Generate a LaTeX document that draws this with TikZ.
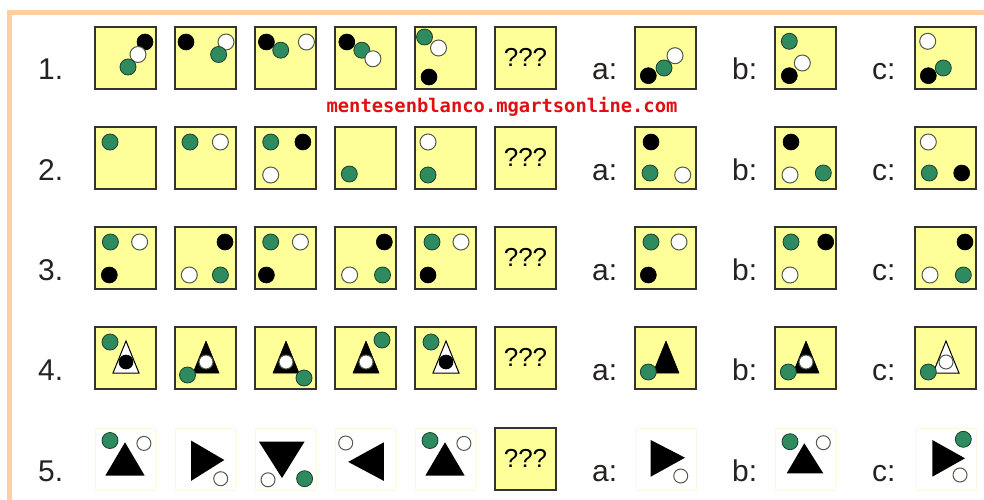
\documentclass[tikz,border=0pt]{standalone}
\usepackage{fontspec}
\setmainfont{Liberation Sans}
\newfontfamily\markfont{DejaVu Sans Mono}
\definecolor{qyellow}{HTML}{FFFF99}
\definecolor{qline}{HTML}{333333}
\definecolor{qgreen}{HTML}{2E8B60}
\definecolor{qgline}{HTML}{1E3F2C}
\definecolor{qwline}{HTML}{4F5A48}
\definecolor{qtext}{HTML}{262222}
\definecolor{qred}{HTML}{E01010}
\definecolor{qframe}{HTML}{FFCFA0}
\definecolor{qfaint}{HTML}{FDF6E0}

\begin{document}
\begin{tikzpicture}[x=1pt,y=-1pt,
    box/.style={fill=qyellow,draw=qline,line width=1.3pt},
    bk/.style={fill=black,draw=black,line width=0.6pt},
    wt/.style={fill=white,draw=qwline,line width=1pt},
    gr/.style={fill=qgreen,draw=qgline,line width=0.8pt},
    btri/.style={fill=black,draw=black,line width=0.6pt,line join=round},
    wtri/.style={fill=white,draw=black,line width=1pt},
    lbl/.style={font=\fontsize{30}{30}\selectfont,text=qtext,anchor=base west,inner sep=0pt},
    qq/.style={font=\fontsize{26}{26}\selectfont,inner sep=0pt}]
    \useasboundingbox (0,0) rectangle (984,500);
    \fill[white] (0,0) rectangle (984,500);
    % marco
    \draw[qframe,line width=5pt] (9,500) -- (9,12.5) -- (984,12.5);
    % casillas
    \foreach \t in {27,127,227,327}{
      \foreach \l in {95,175,255,335,415,495,635,775,915}
        \draw[box] (\l,\t) rectangle ++(61,62);
    }
    \foreach \l in {95,175,255,335,415,635,775,915}
      \draw[qfaint,line width=0.8pt] (\l,428) rectangle ++(61,62);
    \draw[box] (495,428) rectangle ++(61,62);
    % rotulos
    \foreach \n/\t in {1/27,2/127,3/227,4/327,5/428}{
      \node[lbl] (num\n) at (38,\t+53) {\n.};
      \node[lbl] (opa\n) at (592,\t+53) {a:};
      \node[lbl] (opb\n) at (732,\t+53) {b:};
      \node[lbl] (opc\n) at (872,\t+53) {c:};
      \node[qq] (preg\n) at (525.5,\t+30) {???};
    }
    \node[font=\markfont\bfseries\fontsize{18.8}{19}\selectfont,text=qred,anchor=base,inner sep=0pt]
      (marca) at (502,113) {mentesenblanco.mgartsonline.com};
    % fila 1
    \draw[bk] (145,42) circle (8);  \draw[wt] (138,54.5) circle (8); \draw[gr] (128,67) circle (8);
    \draw[bk] (186,42) circle (8);  \draw[wt] (226,42) circle (8);   \draw[gr] (218.6,54.5) circle (8);
    \draw[bk] (266.4,42) circle (8); \draw[wt] (306.4,42) circle (8); \draw[gr] (280.7,50.2) circle (8);
    \draw[bk] (346.8,42) circle (8); \draw[gr] (361.8,50.2) circle (8); \draw[wt] (372.9,58.8) circle (8);
    \draw[wt] (438.5,48) circle (8); \draw[gr] (424.5,37) circle (8); \draw[bk] (429,77) circle (8);
    \draw[wt] (675,55.7) circle (8); \draw[gr] (664,68) circle (8); \draw[bk] (648.3,75.7) circle (8);
    \draw[gr] (789.3,41.3) circle (8); \draw[wt] (802.3,63) circle (8); \draw[bk] (789.3,75.7) circle (8);
    \draw[wt] (927.7,41.3) circle (8); \draw[gr] (943.3,68) circle (8); \draw[bk] (928.3,75.7) circle (8);
    % fila 2
    \draw[gr] (110,142) circle (8);
    \draw[gr] (190,142) circle (8); \draw[wt] (220.4,142) circle (8);
    \draw[gr] (270.7,142) circle (8); \draw[bk] (302.9,142) circle (8); \draw[wt] (270.7,175) circle (8);
    \draw[gr] (349.3,174) circle (8);
    \draw[wt] (428,142) circle (8); \draw[gr] (428,175) circle (8);
    \draw[bk] (651,142) circle (8); \draw[gr] (650,173) circle (8); \draw[wt] (682.7,175) circle (8);
    \draw[bk] (791,142) circle (8); \draw[wt] (790,175) circle (8); \draw[gr] (823.3,173) circle (8);
    \draw[wt] (928.3,142) circle (8); \draw[gr] (929.3,173) circle (8); \draw[bk] (961.7,173) circle (8);
    % fila 3
    \draw[gr] (110.4,242) circle (8); \draw[wt] (139.6,242) circle (8); \draw[bk] (109.3,275) circle (8);
    \draw[bk] (225,242) circle (8); \draw[wt] (189.3,275) circle (8); \draw[gr] (220.4,275) circle (8);
    \draw[gr] (270.7,242) circle (8); \draw[wt] (300.4,242) circle (8); \draw[bk] (266.4,275) circle (8);
    \draw[bk] (384.3,242) circle (8); \draw[wt] (349.6,275) circle (8); \draw[gr] (382.5,275) circle (8);
    \draw[gr] (432,242) circle (8); \draw[wt] (461,242) circle (8); \draw[bk] (428,275) circle (8);
    \draw[gr] (651,242) circle (8); \draw[wt] (679,242) circle (8); \draw[bk] (648.3,275) circle (8);
    \draw[gr] (791,242) circle (8); \draw[bk] (825.7,242) circle (8); \draw[wt] (790,275) circle (8);
    \draw[bk] (965,242) circle (8); \draw[wt] (930,275) circle (8); \draw[gr] (963.3,275) circle (8);
    % fila 4
    \foreach \l/\s/\c in {95/wtri/bk,175/btri/wt,255/btri/wt,335/btri/wt,415/wtri/bk,775/btri/wt,915/wtri/wt}{
      \draw[\s] (\l+18,373) -- (\l+44,373) -- (\l+31,341) -- cycle;
      \draw[\c] (\l+31,362) circle (7);
    }
    \draw[btri] (653,373) -- (679,373) -- (666,341) -- cycle;
    \foreach \x/\y in {110/342,187.5/375,304/378,382/340,431/342,648.3/372,788.3/372,928.3/372}
      \draw[gr] (\x,\y) circle (8);
    % fila 5
    \fill (105.4,475.5) -- (144.6,475.5) -- (125,442.3) -- cycle;
    \draw[gr] (110,440.5) circle (8); \draw[wt] (143.9,443.4) circle (7);
    \fill (191,440.5) -- (191,480.9) -- (224.3,460) -- cycle;
    \draw[wt] (220.7,478.7) circle (7);
    \fill (258.9,441.6) -- (304.6,441.6) -- (282,478) -- cycle;
    \draw[wt] (268,479.8) circle (7); \draw[gr] (304.6,478.7) circle (8);
    \fill (383.9,442.3) -- (383.9,480.9) -- (348.2,461.9) -- cycle;
    \draw[wt] (345.7,443) circle (7);
    \fill (425.4,475.5) -- (464.6,475.5) -- (445,442.3) -- cycle;
    \draw[gr] (430,440.5) circle (8); \draw[wt] (463.9,443.4) circle (7);
    \fill (650.7,440) -- (650.7,476.7) -- (685,457.7) -- cycle;
    \draw[wt] (680.7,476) circle (7);
    \fill (786.7,473.3) -- (823.3,473.3) -- (804.3,443.3) -- cycle;
    \draw[gr] (790,441.7) circle (8); \draw[wt] (823.3,442.7) circle (7);
    \fill (932.3,440) -- (932.3,476.7) -- (965,458.3) -- cycle;
    \draw[gr] (963.3,439.3) circle (8); \draw[wt] (960,475) circle (7);
\end{tikzpicture}
\end{document}
